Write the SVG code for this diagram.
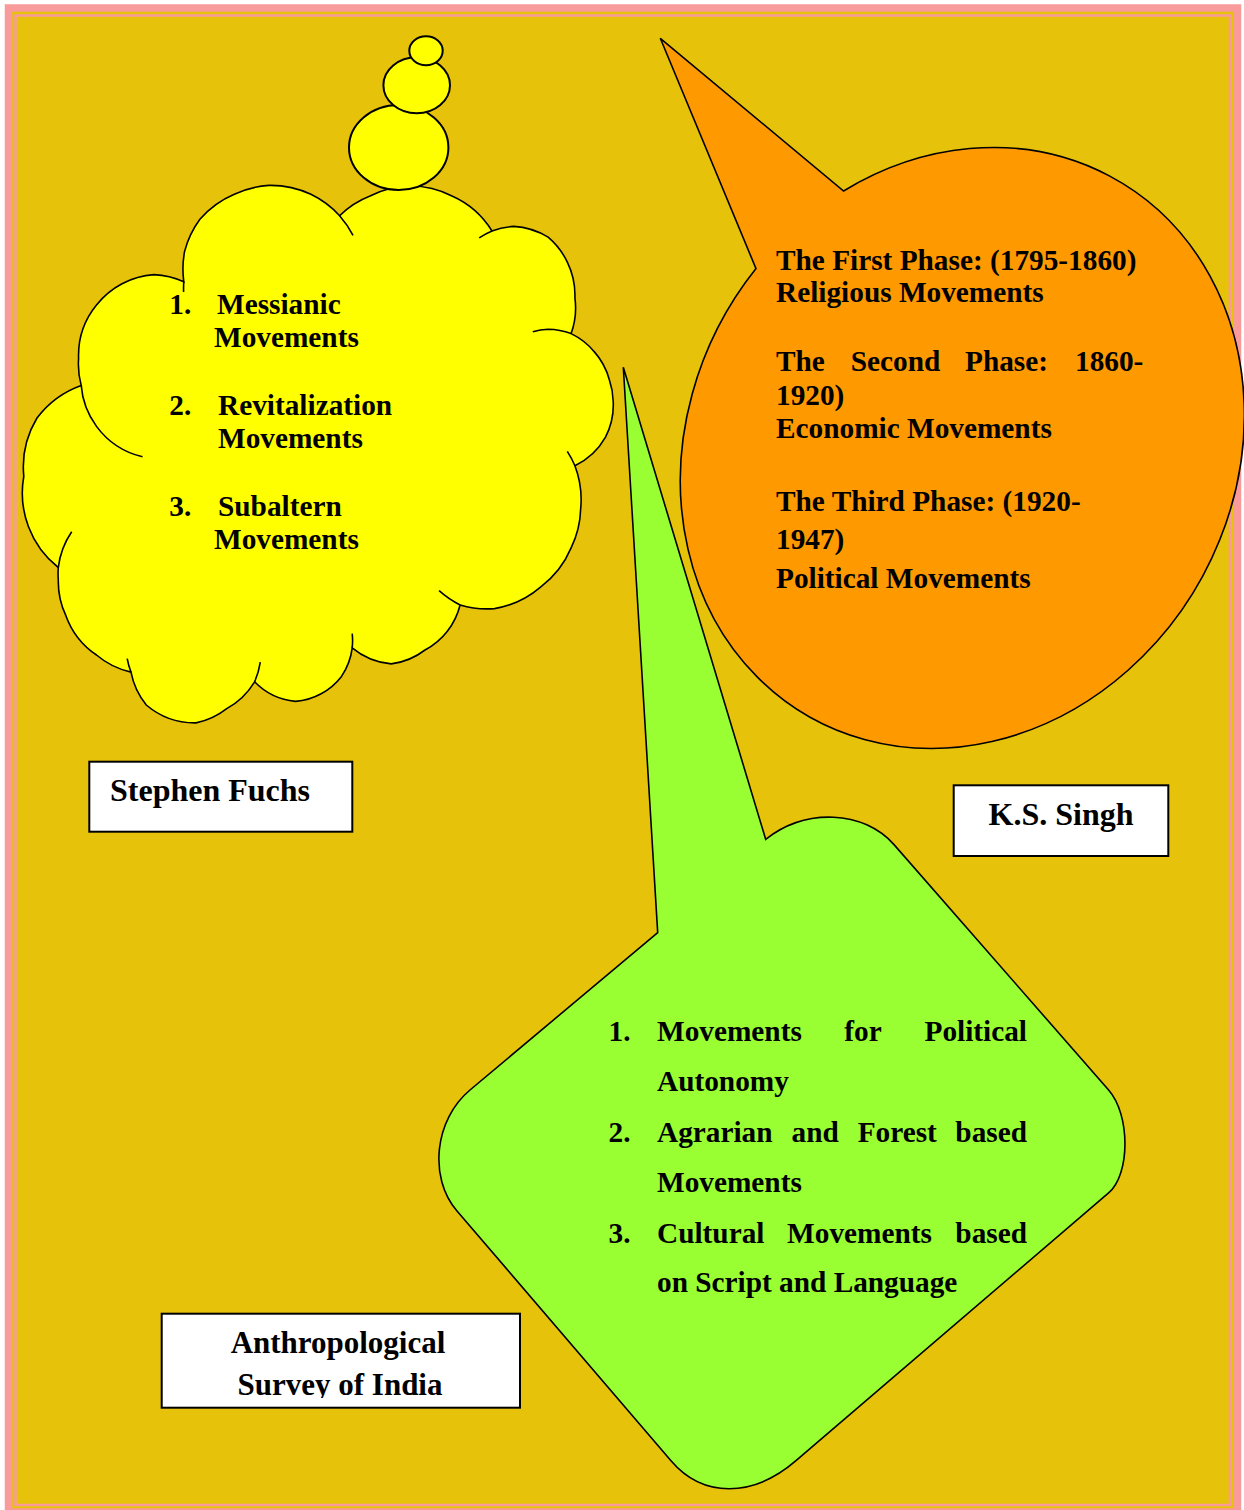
<svg xmlns="http://www.w3.org/2000/svg" width="1244" height="1510" viewBox="0 0 1244 1510">
  <style>
    .t { font-family: 'Liberation Serif', 'Times New Roman', serif; font-weight: bold; fill: #000; }
    .s29 { font-size: 29.3px; }
    .s32 { font-size: 32px; }
    .s31 { font-size: 31px; }
    .shape { stroke: #000; stroke-width: 1.6; stroke-linejoin: miter; }
    .stub { fill: none; stroke: #000; stroke-width: 1.6; }
    .box { fill: #fff; stroke: #000; stroke-width: 2; }
  </style>
  <defs>
    <clipPath id="asiClip">
      <rect x="162" y="1314" width="358" height="84"/>
    </clipPath>
  </defs>

  <!-- page background and double frame -->
  <rect x="0" y="0" width="1244" height="1510" fill="#fff"/>
  <rect x="8.5" y="8" width="1229" height="1504" fill="#E6C20A" stroke="#F99B9B" stroke-width="7.5"/>
  <rect x="15.5" y="15.5" width="1214.5" height="1489.5" fill="none" stroke="#F99B9B" stroke-width="2.5"/>

  <!-- thought cloud: Stephen Fuchs -->
  <g id="cloud-fuchs">
    <path class="shape" fill="#FFFF00" d="M 81.2,385.4
      A 80 80 0 0 1 78.6,358.6 A 80 80 0 0 1 96.5,305 A 80 80 0 0 1 154,274.6 A 80 80 0 0 1 183.8,281.8
      A 95 95 0 0 1 184.6,251.4 A 95 95 0 0 1 199.9,219.3 A 95 95 0 0 1 234.3,194.3 A 95 95 0 0 1 268.8,185.4 A 95 95 0 0 1 310.9,194.3 A 95 95 0 0 1 339.6,215.7
      A 90 90 0 0 1 370,196 A 90 90 0 0 1 410,186 A 90 90 0 0 1 452,196 A 90 90 0 0 1 492,231
      A 75 75 0 0 1 513.7,226.4 A 75 75 0 0 1 548.1,237.1 A 75 75 0 0 1 567.3,262.1 A 75 75 0 0 1 574.9,297.9 A 75 75 0 0 1 571.1,333.6
      A 70 70 0 0 1 594,351.4 A 70 70 0 0 1 609.4,380 A 70 70 0 0 1 613.2,401.4 A 70 70 0 0 1 605.5,437.1 A 70 70 0 0 1 574.9,465.7
      A 95 95 0 0 1 580.7,508.6 A 95 95 0 0 1 571.1,547.9 A 95 95 0 0 1 540.5,587.1 A 95 95 0 0 1 494.5,608.6 A 95 95 0 0 1 460.1,605
      A 70 70 0 0 1 425,650 A 70 70 0 0 1 391.2,663.9 A 70 70 0 0 1 352.2,647.9
      A 65 65 0 0 1 341.5,676.4 A 65 65 0 0 1 295.5,701.4 A 65 65 0 0 1 254.6,681.8
      A 75 75 0 0 1 226.7,708.6 A 75 75 0 0 1 196,722.9 A 75 75 0 0 1 146.3,705 A 75 75 0 0 1 131,672.1
      A 80 80 0 0 1 96.5,655 A 80 80 0 0 1 65.9,615.7 A 80 80 0 0 1 58.3,580 A 80 80 0 0 1 58.3,567.5
      A 95 95 0 0 1 23.8,476.4 A 95 95 0 0 1 37,418 A 95 95 0 0 1 81.2,385.4 Z"/>
    <!-- inner lobe strokes -->
    <path class="stub" d="M 142.5,456.8 A 80 80 0 0 1 96.5,426.4 A 80 80 0 0 1 81.2,385.4
      M 183.6,292 A 95 95 0 0 1 183.8,281.8
      M 339.6,215.7 A 95 95 0 0 1 353,235.4
      M 479.2,237.9 A 75 75 0 0 1 492,231
      M 532.8,331.8 A 70 70 0 0 1 548.1,329.3 A 70 70 0 0 1 571.1,333.6
      M 567.3,451.4 A 95 95 0 0 1 574.9,465.7
      M 460.1,605 A 95 95 0 0 1 439.1,590.7
      M 352.2,633.6 A 65 65 0 0 1 352.2,647.9
      M 260.3,662.1 A 75 75 0 0 1 254.6,681.8
      M 131,672.1 A 75 75 0 0 1 127.2,658.6
      M 58.3,567.5 A 80 80 0 0 1 71.7,531.8"/>
    <!-- thought bubbles -->
    <ellipse cx="398.7" cy="147.5" rx="49.7" ry="42.5" fill="#FFFF00" stroke="#000" stroke-width="2"/>
    <ellipse cx="416.7" cy="85.3" rx="33.3" ry="28" fill="#FFFF00" stroke="#000" stroke-width="2"/>
    <ellipse cx="426" cy="50.7" rx="16.7" ry="14.5" fill="#FFFF00" stroke="#000" stroke-width="2"/>
    <text class="t s29" x="169.3" y="314">1.</text>
    <text class="t s29" x="217" y="314">Messianic</text>
    <text class="t s29" x="214" y="347">Movements</text>
    <text class="t s29" x="169.3" y="414.6">2.</text>
    <text class="t s29" x="218" y="414.6">Revitalization</text>
    <text class="t s29" x="218" y="448">Movements</text>
    <text class="t s29" x="169.3" y="516.4">3.</text>
    <text class="t s29" x="218" y="516.4">Subaltern</text>
    <text class="t s29" x="214" y="549">Movements</text>
  </g>

  <!-- oval callout: K.S. Singh -->
  <g id="callout-singh">
    <path class="shape" fill="#FF9900" d="M 843.6,191 A 272.3 309.3 30 1 1 756,268.6 L 660.3,38.3 Z"/>
    <text class="t s29" x="776" y="270">The First Phase: (1795-1860)</text>
    <text class="t s29" x="776" y="302">Religious Movements</text>
    <text class="t s29" y="370.5"><tspan x="776">The</tspan><tspan x="850.7">Second</tspan><tspan x="965">Phase:</tspan><tspan x="1075">1860-</tspan></text>
    <text class="t s29" x="776" y="404.5">1920)</text>
    <text class="t s29" x="776" y="438">Economic Movements</text>
    <text class="t s29" x="776" y="511">The Third Phase: (1920-</text>
    <text class="t s29" x="776" y="549">1947)</text>
    <text class="t s29" x="776" y="588">Political Movements</text>
  </g>

  <!-- rounded callout: Anthropological Survey of India -->
  <g id="callout-asi">
    <path class="shape" fill="#99FF33" d="M 657.7,932.6 L 623.3,367.3 L 765.7,839.3
      C 805.9,807.8 863.6,810.2 894,844.6
      L 1108.6,1090
      C 1130.4,1114.7 1130.4,1174.4 1108.6,1192.9
      L 796,1460.7
      C 752.7,1498 702.7,1498 671,1460.7
      L 456.8,1210.7
      C 428.3,1177.4 434.6,1119.5 470,1090 Z"/>
    <text class="t s29" x="608.6" y="1041">1.</text>
    <text class="t s29" y="1041"><tspan x="657">Movements</tspan><tspan x="844.3">for</tspan><tspan x="1027" text-anchor="end">Political</tspan></text>
    <text class="t s29" x="657" y="1091">Autonomy</text>
    <text class="t s29" x="608.6" y="1142">2.</text>
    <text class="t s29" y="1142"><tspan x="657">Agrarian</tspan><tspan x="791.6">and</tspan><tspan x="857.7">Forest</tspan><tspan x="1027" text-anchor="end">based</tspan></text>
    <text class="t s29" x="657" y="1192">Movements</text>
    <text class="t s29" x="608.6" y="1242.5">3.</text>
    <text class="t s29" y="1242.5"><tspan x="657">Cultural</tspan><tspan x="787.1">Movements</tspan><tspan x="1027" text-anchor="end">based</tspan></text>
    <text class="t s29" x="657" y="1292.4">on Script and Language</text>
  </g>

  <!-- source labels -->
  <g id="label-fuchs">
    <rect class="box" x="89.3" y="761.7" width="263" height="70"/>
    <text class="t s32" x="110" y="801">Stephen Fuchs</text>
  </g>
  <g id="label-singh">
    <rect class="box" x="953.7" y="785.3" width="214.6" height="70.7"/>
    <text class="t s32" x="1061" y="825" text-anchor="middle">K.S. Singh</text>
  </g>
  <g id="label-asi">
    <rect class="box" x="161.7" y="1313.7" width="358.3" height="94"/>
    <g clip-path="url(#asiClip)">
      <text class="t s31" x="338" y="1353.3" text-anchor="middle">Anthropological</text>
      <text class="t s31" x="340" y="1395" text-anchor="middle">Survey of India</text>
    </g>
  </g>
</svg>
